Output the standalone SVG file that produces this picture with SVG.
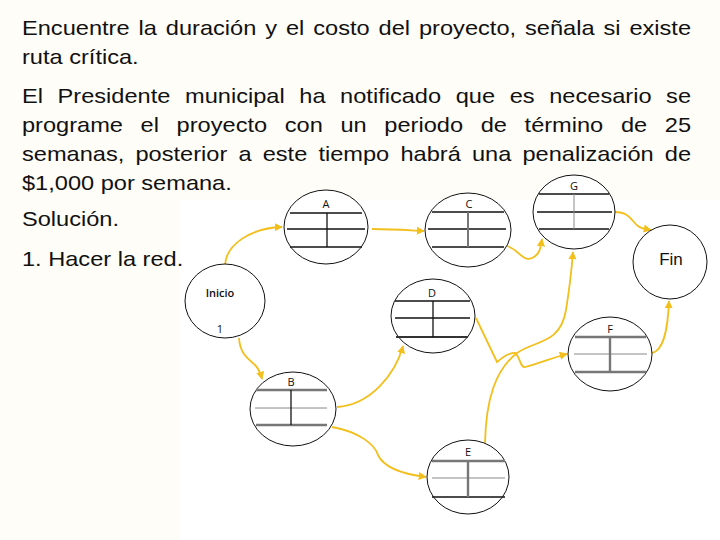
<svg xmlns="http://www.w3.org/2000/svg" width="720" height="540" viewBox="0 0 720 540">
<defs>
<marker id="ah" viewBox="0 0 10 10" refX="9" refY="5" markerWidth="4.5" markerHeight="4.5" orient="auto" markerUnits="strokeWidth">
<path d="M0,0 L10,5 L0,10 z" fill="#f2bf1c"/>
</marker>
<style>
.txt{font-family:"Liberation Sans",Arial,sans-serif;font-size:20px;fill:#111}
.lbl{font-family:"Open Sans","Liberation Sans",sans-serif;font-size:11px;fill:#111;text-anchor:middle}
.el{fill:#fff;stroke:#111;stroke-width:1}
.k{stroke:#111;stroke-width:1.3}
.gt{stroke:#777;stroke-width:2.4}
.gn{stroke:#888;stroke-width:1}
.gv{stroke:#777;stroke-width:1.6}
.con{fill:none;stroke:#f2bf1c;stroke-width:1.8;marker-end:url(#ah)}
</style>
</defs>
<rect width="720" height="540" fill="#fffdf7"/>
<rect x="180" y="200" width="540" height="340" fill="#fff"/>
<g transform="translate(22,0) scale(1.18,1)">
<text class="txt" x="0" y="35" style="word-spacing:2px" textLength="567" lengthAdjust="spacing">Encuentre la duración y el costo del proyecto, señala si existe</text>
<text class="txt" x="0" y="64">ruta crítica.</text>
<text class="txt" x="0" y="103" style="word-spacing:6.8px" textLength="567" lengthAdjust="spacing">El Presidente municipal ha notificado que es necesario se</text>
<text class="txt" x="0" y="132" style="word-spacing:9.4px" textLength="567" lengthAdjust="spacing">programe el proyecto con un periodo de término de 25</text>
<text class="txt" x="0" y="161" style="word-spacing:3.9px" textLength="567" lengthAdjust="spacing">semanas, posterior a este tiempo habrá una penalización de</text>
<text class="txt" x="0" y="190">$1,000 por semana.</text>
<text class="txt" x="0" y="226">Solución.</text>
<text class="txt" x="0" y="266">1. Hacer la red.</text>
</g>
<g id="connectors">
<path class="con" d="M225,265 C226,245 250,228 282,227"/>
<path class="con" d="M372,229 C390,229 405,230 424,231"/>
<path class="con" d="M507,246 C520,250 522,262 532,258 C540,255 541,246 542,239"/>
<path class="con" d="M615,212 C630,212 632,222 638,226 C642,229 646,229 651,230"/>
<path class="con" d="M652,353 C665,350 668,325 669,301"/>
<path class="con" d="M239,338 C240,355 250,360 255,365 C260,370 261,375 262,379"/>
<path class="con" d="M337,407 C370,405 395,375 403,346"/>
<path class="con" d="M332,427 C360,432 375,445 378,455 C385,470 410,475 426,477"/>
<path class="con" d="M476,318 L497,362 C503,357 510,352 515,353 C520,356 520,368 525,367 C540,363 555,357 567,354"/>
<path class="con" d="M485,443 C486,400 495,370 517,353 C535,340 560,345 566,310 C570,285 572,265 573,252"/>
</g>
<g id="inicio">
<ellipse class="el" cx="225" cy="301" rx="40" ry="37"/>
<text class="lbl" x="220" y="297" style="font-weight:600">Inicio</text>
<text class="lbl" x="220" y="333">1</text>
</g>
<g id="A">
<ellipse class="el" cx="326" cy="227" rx="42" ry="37"/>
<text class="lbl" x="326" y="208">A</text>
<line class="k" x1="290" y1="213" x2="362" y2="213"/>
<line class="k" x1="287" y1="229" x2="365" y2="229"/>
<line class="k" x1="290" y1="247" x2="362" y2="247"/>
<line class="k" x1="327" y1="213" x2="327" y2="247"/>
</g>
<g id="C">
<ellipse class="el" cx="468" cy="230" rx="43" ry="37"/>
<text class="lbl" x="469" y="208">C</text>
<line class="k" x1="432" y1="212" x2="504" y2="212"/>
<line class="k" x1="428" y1="229" x2="506" y2="229"/>
<line class="k" x1="432" y1="247" x2="504" y2="247"/>
<line class="gv" x1="468" y1="212" x2="468" y2="247" style="stroke-width:2"/>
</g>
<g id="G">
<ellipse class="el" cx="574" cy="212" rx="41" ry="37"/>
<text class="lbl" x="574" y="190">G</text>
<line class="k" x1="539" y1="194" x2="609" y2="194"/>
<line class="k" x1="537" y1="212" x2="612" y2="212"/>
<line class="k" x1="539" y1="229" x2="609" y2="229"/>
<line class="gn" x1="574" y1="194" x2="574" y2="229"/>
</g>
<g id="fin">
<ellipse class="el" cx="670" cy="262" rx="37" ry="37"/>
<text x="671" y="265" style="font-family:'Liberation Sans',Arial,sans-serif;font-size:17px;fill:#111;text-anchor:middle">Fin</text>
</g>
<g id="D">
<ellipse class="el" cx="433" cy="316" rx="42" ry="37"/>
<text class="lbl" x="432" y="297">D</text>
<line class="k" x1="395" y1="301" x2="470" y2="301"/>
<line class="k" x1="395" y1="318" x2="470" y2="318"/>
<line x1="396" y1="337" x2="468" y2="337" style="stroke:#333;stroke-width:2"/>
<line class="k" x1="433" y1="301" x2="433" y2="337"/>
</g>
<g id="F">
<ellipse class="el" cx="610" cy="354" rx="42" ry="37"/>
<text class="lbl" x="610" y="333">F</text>
<line class="gt" x1="575" y1="337" x2="646" y2="337"/>
<line class="gn" x1="574" y1="354" x2="647" y2="354"/>
<line class="gt" x1="575" y1="372" x2="646" y2="372"/>
<line class="gt" x1="610" y1="337" x2="610" y2="372"/>
</g>
<g id="E">
<ellipse class="el" cx="468" cy="477" rx="41" ry="37"/>
<text class="lbl" x="468" y="456">E</text>
<line class="gt" x1="432" y1="461" x2="505" y2="461"/>
<line class="gn" x1="432" y1="478" x2="505" y2="478"/>
<line class="k" x1="432" y1="497" x2="505" y2="497"/>
<line class="gt" x1="468" y1="461" x2="468" y2="497"/>
</g>
<g id="B">
<ellipse class="el" cx="293" cy="409" rx="43" ry="37"/>
<text class="lbl" x="291" y="386">B</text>
<line class="gt" x1="256" y1="390" x2="327" y2="390"/>
<line class="gn" x1="255" y1="408" x2="327" y2="408"/>
<line class="gt" x1="256" y1="425" x2="327" y2="425"/>
<line class="k" x1="291" y1="390" x2="291" y2="425"/>
</g>
</svg>
